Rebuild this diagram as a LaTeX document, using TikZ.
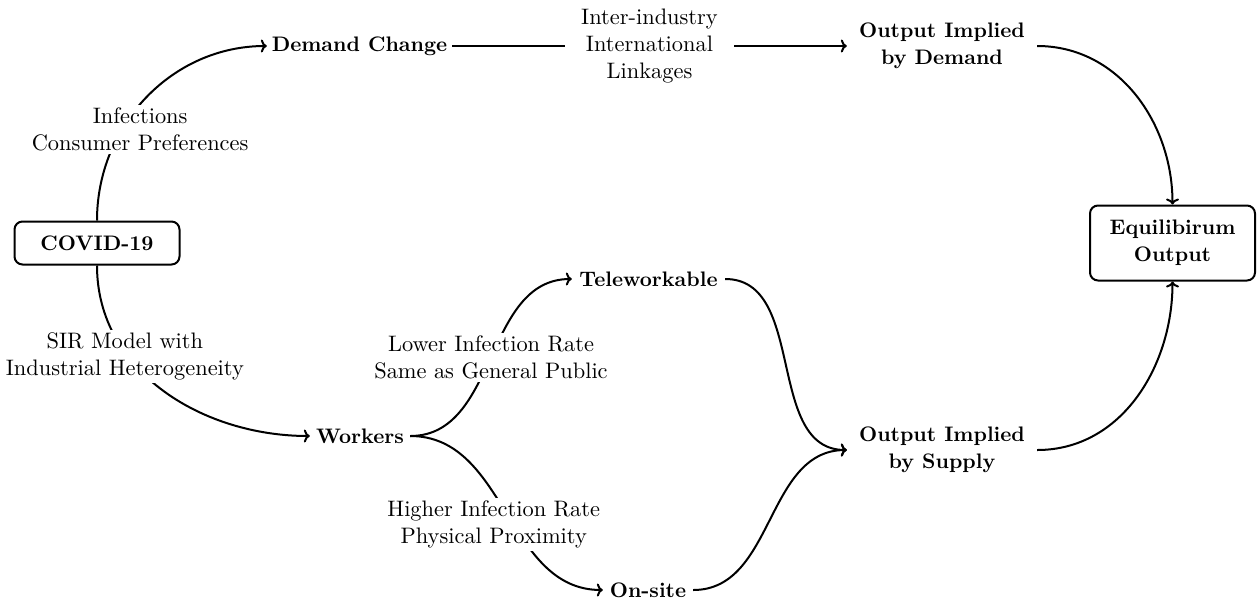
\documentclass[tikz,border=0pt]{standalone}
\usepackage{fontspec}
\setmainfont{lmroman10}[Extension=.otf,UprightFont=*-regular,BoldFont=*-bold,ItalicFont=*-italic,BoldItalicFont=*-bolditalic]
\usetikzlibrary{arrows.meta}
\begin{document}
\begin{tikzpicture}[x=1pt,y=-1pt,
  every node/.style={font=\fontsize{22.4}{27}\selectfont},
  conn/.style={line width=2pt,-{To[length=6pt,width=13pt]}},
  box/.style={draw,line width=2pt,rounded corners=8pt,font=\fontsize{21}{27}\selectfont\bfseries,align=center},
  item/.style={font=\fontsize{21}{27}\selectfont\bfseries,inner xsep=0pt,align=center},
  lbl/.style={fill=white,align=center,inner sep=3pt}]
\useasboundingbox (0,0) rectangle (1257,603);
% nodes
\node[box,minimum width=165pt,minimum height=43pt] (covid) at (97,243) {COVID-19};
\node[box,minimum width=165pt,minimum height=75pt] (equil) at (1172.5,243) {Equilibirum\\Output};
\node[item,minimum width=185pt] (demand) at (359.5,46) {Demand Change};
\node[item,minimum width=190pt] (outd) at (942,46) {Output Implied\\by Demand};
\node[item,minimum width=100pt] (workers) at (360,436) {Workers};
\node[item,minimum width=153pt] (tele) at (648.5,279) {Teleworkable};
\node[item,minimum width=90pt] (onsite) at (648,590) {On-site};
\node[item,minimum width=190pt] (outs) at (942,450) {Output Implied\\by Supply};
% connectors
\draw[conn] (demand) -- node[lbl,minimum width=169pt]{Inter-industry\\International\\Linkages} (outd);
\draw[conn] (covid.north) to[out=90,in=180] node[lbl,pos=0.35,xshift=18pt]{Infections\\Consumer Preferences} (demand.west);
\draw[conn] (covid.south) to[out=-90,in=180] node[lbl,pos=0.33,xshift=-3pt]{SIR Model with\\Industrial Heterogeneity} (workers.west);
\draw[conn] (workers.east) to[out=0,in=180] node[lbl]{Lower Infection Rate\\Same as General Public} (tele.west);
\draw[conn] (workers.east) to[out=0,in=180] node[lbl,pos=0.55,xshift=-20pt]{Higher Infection Rate\\Physical Proximity} (onsite.west);
\draw[conn] (tele.east) to[out=0,in=180] (outs.west);
\draw[conn] (onsite.east) to[out=0,in=180] (outs.west);
\draw[conn] (outd.east) to[out=0,in=90] (equil.north);
\draw[conn] (outs.east) to[out=0,in=-90] (equil.south);
\end{tikzpicture}
\end{document}
